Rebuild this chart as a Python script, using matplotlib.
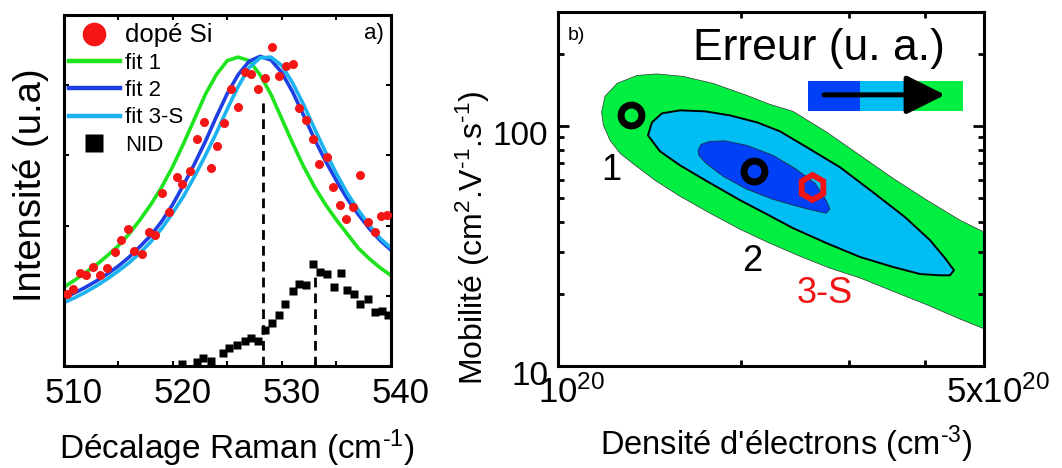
import matplotlib.pyplot as plt
import matplotlib.transforms as mtransforms
from matplotlib.patches import Rectangle
from matplotlib.ticker import NullFormatter

plt.rcParams['font.family'] = ['Liberation Sans', 'DejaVu Sans']
plt.rcParams['mathtext.fontset'] = 'custom'
plt.rcParams['mathtext.rm'] = 'Liberation Sans'
plt.rcParams['mathtext.default'] = 'regular'

# %% a) Raman spectra (intensity in arbitrary units, axis 0..5)
raman_x = list(range(510, 541))
fit1 = [1.12, 1.22, 1.33, 1.44, 1.57, 1.71, 1.88, 2.08, 2.30, 2.55, 2.84, 3.17, 3.52, 3.87, 4.15, 4.35,
        4.40, 4.35, 4.15, 3.87, 3.52, 3.17, 2.84, 2.55, 2.30, 2.08, 1.88, 1.68, 1.53, 1.40, 1.29]
fit2 = [0.97, 1.04, 1.12, 1.21, 1.31, 1.42, 1.55, 1.70, 1.86, 2.06, 2.30, 2.58, 2.88, 3.20, 3.55, 3.88,
        4.15, 4.34, 4.41, 4.36, 4.18, 3.90, 3.57, 3.23, 2.92, 2.64, 2.38, 2.16, 1.96, 1.79, 1.65]
fit3 = [0.90, 0.97, 1.05, 1.14, 1.24, 1.35, 1.47, 1.61, 1.77, 1.96, 2.18, 2.42, 2.70, 3.00, 3.32, 3.66,
        3.98, 4.25, 4.39, 4.40, 4.28, 4.03, 3.72, 3.38, 3.05, 2.74, 2.46, 2.22, 2.01, 1.82, 1.68]

dope_x = [510.3, 510.9, 511.5, 512.1, 512.7, 513.3, 514.0, 514.7, 515.3, 515.9, 516.5, 517.2, 517.8, 518.4,
          519.0, 519.7, 520.4, 520.9, 521.6, 522.2, 522.9, 523.5, 524.1, 524.7, 525.3, 526.0, 526.6, 527.2,
          527.8, 528.5, 529.1, 529.7, 530.4, 531.0, 531.6, 532.2, 532.9, 533.4, 534.1, 534.7, 535.3, 535.9,
          536.5, 537.2, 537.9, 538.5, 539.1, 539.6]
dope_y = [1.03, 1.10, 1.32, 1.30, 1.41, 1.30, 1.40, 1.62, 1.79, 1.95, 1.64, 1.60, 1.91, 1.87,
          2.46, 2.20, 2.69, 2.59, 2.78, 3.24, 3.47, 2.82, 3.14, 3.46, 3.94, 3.69, 4.19, 4.16,
          3.94, 4.10, 4.54, 4.13, 4.27, 4.30, 3.67, 3.51, 3.24, 2.88, 2.98, 2.55, 2.30, 2.09,
          2.27, 2.72, 2.05, 1.91, 2.14, 2.15]

nid_x = [520.9, 522.2, 522.8, 523.5, 524.6, 525.2, 525.9, 526.6, 527.2, 527.8, 528.5, 529.1, 529.7, 530.3,
         531.0, 531.6, 532.2, 532.9, 533.5, 534.1, 534.8, 535.4, 536.0, 536.6, 537.2, 537.9, 538.5, 539.2,
         539.7]
nid_y = [0.03, 0.06, 0.12, 0.07, 0.18, 0.25, 0.30, 0.35, 0.40, 0.36, 0.51, 0.61, 0.73, 0.89,
         1.07, 1.17, 1.15, 1.46, 1.34, 1.31, 1.12, 1.33, 1.08, 1.03, 0.88, 0.96, 0.77, 0.79,
         0.73]

peak_pos = [528.3, 533.0]
peak_top = [3.77, 1.32]

# %% b) error map (density in 1e20 cm-3, mobility in cm2/V/s)
outer_d = [1.179, 1.187, 1.217, 1.264, 1.338, 1.442, 1.585, 1.776, 1.989, 2.227, 2.495, 2.794, 3.130,
           3.545, 4.031, 4.566, 5.0, 5.0, 4.566, 4.031, 3.545, 3.130, 2.763, 2.430, 2.227, 2.042,
           1.796, 1.604, 1.453, 1.348, 1.250, 1.194]
outer_m = [114.7, 101.0, 87.4, 77.2, 68.8, 59.6, 51.1, 43.4, 37.2, 32.5, 28.7, 25.6, 23.3,
           20.5, 18.0, 15.7, 14.3, 36.2, 40.6, 49.2, 60.7, 75.7, 94.4, 115.5, 123.5, 134.6,
           151.1, 161.6, 165.5, 163.1, 151.1, 133.4]

mid_d = [1.405, 1.426, 1.481, 1.585, 1.743, 1.915, 2.121, 2.313, 2.562, 2.902, 3.287, 3.710, 4.077,
         4.314, 4.464, 4.397, 4.234, 3.926, 3.545, 3.130, 2.763, 2.430, 2.186, 1.989, 1.756, 1.585,
         1.470]
mid_m = [91.7, 103.9, 113.3, 116.6, 115.5, 111.1, 103.9, 95.3, 81.7, 67.5, 53.1, 41.8, 33.5,
         28.2, 25.1, 23.9, 23.9, 24.2, 25.9, 28.5, 32.5, 37.6, 43.4, 49.2, 59.0, 68.8,
         78.7]

inner_d = [1.697, 1.717, 1.776, 1.879, 2.042, 2.253, 2.448, 2.641, 2.753, 2.794, 2.753, 2.611, 2.430,
           2.253, 2.042, 1.865, 1.749, 1.703]
inner_m = [79.4, 84.1, 86.6, 87.0, 83.3, 75.7, 66.8, 57.9, 49.2, 45.1, 43.4, 44.7, 46.9,
           49.6, 54.6, 61.9, 70.1, 75.7]

fit_d = [1.32, 2.10]
fit_m = [111.0, 65.2]
fit3s_d = [2.61]
fit3s_m = [55.9]

lab_text = ['1', '2', '3-S']
lab_d = [1.225, 2.084, 2.742]
lab_m = [65.6, 27.2, 20.1]
lab_col = ['k', 'k', '#f01414']

c_green = '#00ef40'
c_light = '#00bef4'
c_dark = '#0040f6'

# %%
fig = plt.figure(figsize=(10.62, 4.68), dpi=100)
ax1 = fig.add_axes([63.5/1062, 102/468, 327.5/1062, 351/468])
ax2 = fig.add_axes([558/1062, 102/468, 426/1062, 354/468])

# ---- panel a)
h_dope, = ax1.plot(dope_x, dope_y, 'o', color='#f51515', ms=6.5, mec='none', zorder=4, label='dopé Si')
h1, = ax1.plot(raman_x, fit1, color='#1ee41e', lw=2.6, label='fit 1')
h2, = ax1.plot(raman_x, fit2, color='#1d3fe4', lw=2.6, label='fit 2')
h3, = ax1.plot(raman_x, fit3, color='#1cb2f0', lw=2.6, label='fit 3-S')
h_nid, = ax1.plot(nid_x, nid_y, 's', color='k', ms=5.6, mec='none', label='NID')
ax1.vlines(peak_pos, 0, peak_top, colors='k', lw=2.0, linestyles=(0, (3.5, 2.2)))

ax1.set_xlim(510, 540)
ax1.set_ylim(0, 5)
ax1.set_xticks([510, 520, 530, 540])
ax1.set_xticks([515, 525, 535], minor=True)
ax1.set_yticks([1, 2, 3, 4])
ax1.set_yticklabels([])
ax1.tick_params(which='both', direction='in', top=True, right=True, length=3.5, width=1.5,
                labelsize=25, pad=8)
for sp in ax1.spines.values():
    sp.set_linewidth(2.2)
ax1.set_xlabel('Décalage Raman (cm$^{\u20101}$)', fontsize=24)
ax1.xaxis.set_label_coords(0.53, -0.175)
ax1.xaxis.label.set_va('top')
ax1.set_ylabel('Intensité (u.a)', fontsize=27.5)
ax1.yaxis.set_label_coords(-0.045, 0.515)
ax1.text(0.948, 0.946, 'a)', transform=ax1.transAxes, ha='center', va='center', fontsize=16)

leg = ax1.legend(handles=[h_dope, h1, h2, h3, h_nid], loc='upper left', bbox_to_anchor=(-0.025, 1.016),
                 frameon=False, fontsize=16, handlelength=2.3, handletextpad=0.25,
                 labelspacing=0.28, borderaxespad=0.2)
leg.get_texts()[0].set_fontsize(18.5)
leg.legend_handles[0].set_markersize(17)
leg.legend_handles[4].set_markersize(13)
for h in leg.legend_handles[1:4]:
    h.set_linewidth(3.2)

shift = mtransforms.ScaledTranslation(10/100, 0, fig.dpi_scale_trans)
for lab in ax1.get_xticklabels():
    lab.set_transform(lab.get_transform() + shift)

# ---- panel b)
ax2.fill(outer_d, outer_m, facecolor=c_green, edgecolor='#333333', lw=0.5)
ax2.fill(mid_d, mid_m, facecolor=c_light, edgecolor='k', lw=1.4)
ax2.fill(inner_d, inner_m, facecolor=c_dark, edgecolor='#222222', lw=0.5)
ax2.plot(fit_d, fit_m, 'o', ms=15, mfc='none', mec='k', mew=5)
ax2.plot(fit3s_d, fit3s_m, 'h', ms=18, mfc='none', mec='#f01414', mew=4.2)
for t, d, m, c in zip(lab_text, lab_d, lab_m, lab_col):
    ax2.text(d, m, t, color=c, fontsize=26, ha='center', va='center')

ax2.set_xscale('log')
ax2.set_yscale('log')
ax2.set_xlim(1, 5)
ax2.set_ylim(10, 300)
ax2.set_xticks([1, 5])
ax2.set_xticklabels(['$10^{20}$', '5x$10^{20}$'])
ax2.set_xticks([2, 3, 4], minor=True)
ax2.xaxis.set_minor_formatter(NullFormatter())
ax2.set_yticks([10, 100])
ax2.set_yticklabels(['10', '100'])
ax2.set_yticks([20, 30, 40, 50, 60, 70, 80, 90, 200], minor=True)
ax2.yaxis.set_minor_formatter(NullFormatter())
ax2.tick_params(which='major', direction='in', top=True, right=True, length=8, width=2,
                labelsize=24, pad=7)
ax2.tick_params(axis='x', which='major', labelsize=25)
ax2.tick_params(which='minor', direction='in', top=True, right=True, length=4.5, width=2)
for sp in ax2.spines.values():
    sp.set_linewidth(2.2)
ax2.set_xlabel("Densité d'électrons (cm$^{\u20103}$)", fontsize=23.5)
ax2.xaxis.set_label_coords(0.535, -0.163)
ax2.xaxis.label.set_va('top')
ax2.set_ylabel('Mobilité (cm$^2$.V$^{\u20101}$.s$^{\u20101}$)', fontsize=23)
ax2.yaxis.set_label_coords(-0.155, 0.362)
ax2.text(0.042, 0.935, 'b)', transform=ax2.transAxes, ha='center', va='center', fontsize=14)

# error scale legend
ax2.text(0.613, 0.898, 'Erreur (u. a.)', transform=ax2.transAxes, ha='center', va='center', fontsize=32)
for x0, c in zip([0.587, 0.708, 0.830], [c_dark, c_light, c_green]):
    ax2.add_patch(Rectangle((x0, 0.721), 0.1215, 0.085, transform=ax2.transAxes,
                            facecolor=c, edgecolor='none'))
ax2.annotate('', xy=(0.915, 0.766), xytext=(0.618, 0.766), xycoords='axes fraction',
             arrowprops=dict(arrowstyle='-|>,head_length=0.6,head_width=0.3', lw=3.6,
                             color='k', mutation_scale=40, capstyle='round'))

shift2 = mtransforms.ScaledTranslation(14/100, 0, fig.dpi_scale_trans)
for lab in ax2.get_xticklabels():
    lab.set_transform(lab.get_transform() + shift2)
down = mtransforms.ScaledTranslation(0, -7/100, fig.dpi_scale_trans)
for lab in ax2.get_yticklabels():
    lab.set_transform(lab.get_transform() + down)

fig.savefig('out.png', dpi=100)
